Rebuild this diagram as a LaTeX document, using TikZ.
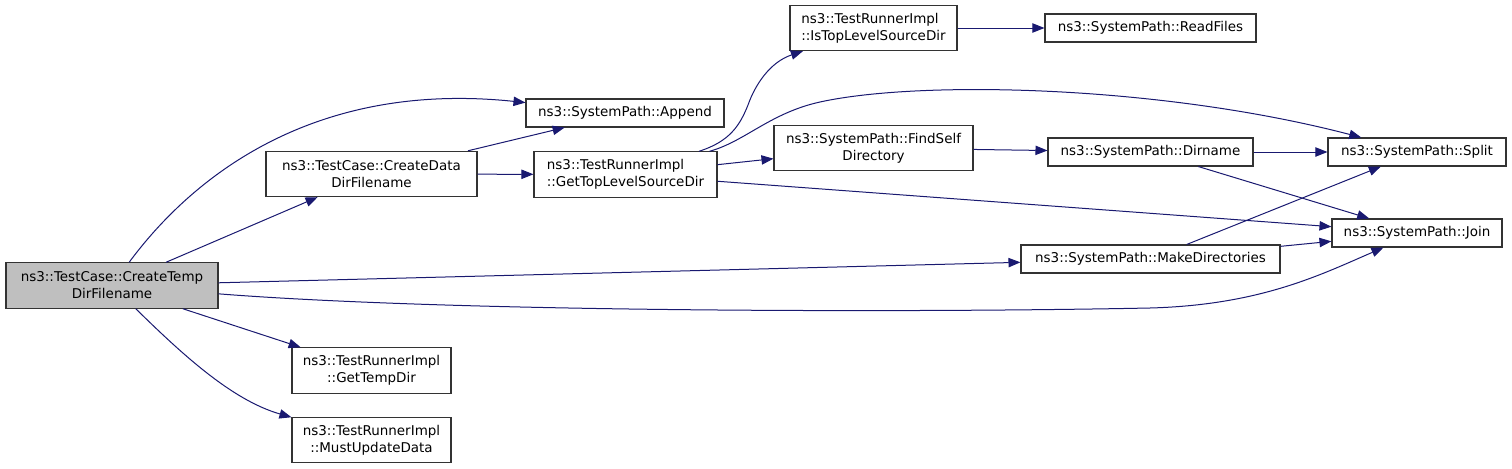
\documentclass[tikz,border=0pt]{standalone}
\usepackage{fontspec}
\setmainfont{DejaVu Sans}
\definecolor{callblue}{RGB}{25,25,112}
\definecolor{maingray}{RGB}{191,191,191}
\usetikzlibrary{arrows.meta}

\begin{document}
\begin{tikzpicture}[x=0.75pt, y=-0.75pt,
    fn/.style={draw=black!80, line width=0.8pt, inner sep=0pt, minimum height=21pt,
        font=\fontsize{10.1pt}{12.75pt}\selectfont, align=center},
    fntwo/.style={fn, minimum height=34pt},
    call/.style={draw=callblue, line width=0.75pt, -{Triangle[length=9pt, width=7pt]}}]
    \useasboundingbox (0,0) rectangle (1512,468);

    % Caller
    \node[fntwo, fill=maingray, minimum width=159pt] (main) at (112,285.5) {ns3::TestCase::CreateTemp\\DirFilename};

    % Second column
    \node[fntwo, minimum width=158.25pt] (datadir) at (371.5,174) {ns3::TestCase::CreateData\\DirFilename};
    \node[fntwo, minimum width=119.25pt] (tempdir) at (371.5,370.5) {ns3::TestRunnerImpl\\::GetTempDir};
    \node[fntwo, minimum width=119.25pt] (mustupd) at (371.5,440) {ns3::TestRunnerImpl\\::MustUpdateData};

    % Third column
    \node[fn, minimum width=148.5pt] (append) at (625,113) {ns3::SystemPath::Append};
    \node[fntwo, minimum width=137.25pt, align=left] (toplevel) at (625.5,174.5) {ns3::TestRunnerImpl\\::GetTopLevelSourceDir};

    % Fourth column
    \node[fntwo, minimum width=125.25pt, align=left] (istop) at (873.5,28) {ns3::TestRunnerImpl\\::IsTopLevelSourceDir};
    \node[fntwo, minimum width=149.25pt] (findself) at (873.5,148) {ns3::SystemPath::FindSelf\\Directory};

    % Fifth column
    \node[fn, minimum width=158.25pt] (readfiles) at (1150.5,28) {ns3::SystemPath::ReadFiles};
    \node[fn, minimum width=153.75pt] (dirname) at (1150.5,152) {ns3::SystemPath::Dirname};
    \node[fn, minimum width=194.25pt] (mkdirs) at (1150.5,259) {ns3::SystemPath::MakeDirectories};

    % Last column
    \node[fn, minimum width=133.5pt] (split) at (1417,152) {ns3::SystemPath::Split};
    \node[fn, minimum width=127.5pt] (join) at (1417,233) {ns3::SystemPath::Join};

    % Straight calls
    \foreach \a/\b in {main/datadir, main/mkdirs, main/tempdir, datadir/append, datadir/toplevel,
        toplevel/findself, toplevel/join, istop/readfiles, findself/dirname, dirname/split,
        dirname/join, mkdirs/split, mkdirs/join} {
        \draw[call] (\a) -- (\b);
    }

    % Curved calls
    \draw[call] (main) .. controls (190,180) and (310,80) .. (append);
    \draw[call] (main) .. controls (450,312) and (900,313) .. (1150,308)
        .. controls (1260,305) and (1320,275) .. (join);
    \draw[call] (main) .. controls (180,352) and (231,400) .. (mustupd);
    \draw[call] (toplevel) .. controls (730,141.5) and (740,125) .. (748,105)
        .. controls (755,85) and (770,62) .. (istop);
    \draw[call] (toplevel) .. controls (745,141.5) and (770,113) .. (820,102)
        .. controls (920,80) and (1160,85) .. (split);
\end{tikzpicture}
\end{document}
